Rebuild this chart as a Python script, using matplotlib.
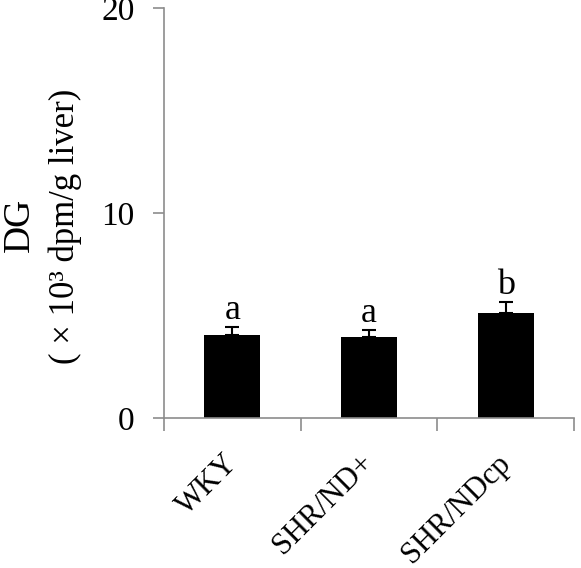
import matplotlib
matplotlib.use("Agg")
import matplotlib.pyplot as plt
from matplotlib.transforms import ScaledTranslation
import numpy as np

groups = ["WKY", "SHR/ND+", "SHR/NDcp"]
means = [4.05, 3.93, 5.14]
errors = [0.37, 0.36, 0.50]
letters = ["a", "a", "b"]

plt.rcParams['font.family'] = ['Liberation Serif', 'DejaVu Serif']
grey = "#8c8c8c"

fig = plt.figure(figsize=(5.81, 5.68), dpi=100)
ax = fig.add_axes([0.282, 0.264, 0.706, 0.722])

x = np.arange(len(groups))
ax.bar(x, means, width=0.41, color="black", zorder=2)
ax.errorbar(x, means, yerr=[np.zeros(len(errors)), errors], fmt="none",
            ecolor="black", elinewidth=1.5, capsize=5, capthick=1.5, zorder=3)
for xi, m, e, lab in zip(x, means, errors, letters):
    ax.text(xi, m + e + 0.4, lab, ha="center", va="baseline", fontsize=26)

ax.set_xlim(-0.5, len(groups) - 0.5)
ax.set_ylim(0, 20)
ax.set_yticks([0, 10, 20])
ax.tick_params(axis="y", labelsize=24, length=8, width=1.2, color=grey,
               direction="out", pad=13)

# category boundaries get the ticks, labels go at the centres
ax.set_xticks(np.arange(-0.5, len(groups)), minor=False)
ax.set_xticklabels([])
ax.tick_params(axis="x", length=9, width=1.2, color=grey, direction="out")
ax.set_xticks(x, minor=True)
ax.set_xticklabels(groups, minor=True, rotation=45, ha="right",
                   rotation_mode="anchor", fontsize=22)
ax.tick_params(axis="x", which="minor", length=0, pad=22)
shift = ScaledTranslation(-7 / 72, 0, fig.dpi_scale_trans)
for t in ax.get_xticklabels(minor=True):
    t.set_transform(t.get_transform() + shift)

for s in ["top", "right"]:
    ax.spines[s].set_visible(False)
for s in ["left", "bottom"]:
    ax.spines[s].set_color(grey)
    ax.spines[s].set_linewidth(1.2)

fig.text(20 / 581, 1 - 225 / 568, "DG", rotation=90, ha="center",
         va="center", fontsize=27)
fig.text(65 / 581, 1 - 226 / 568, "( × 10³ dpm/g liver)", rotation=90,
         ha="center", va="center", fontsize=25)

fig.savefig("out.png", dpi=100)
